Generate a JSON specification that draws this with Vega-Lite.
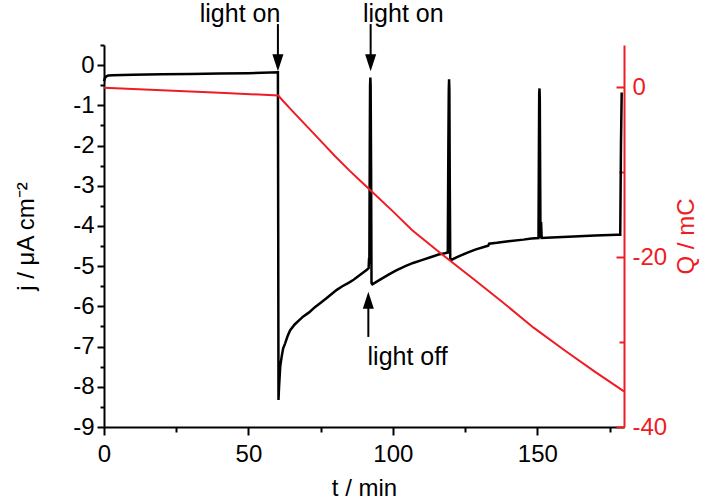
{
  "$schema": "https://vega.github.io/schema/vega-lite/v6.json",
  "width": 520,
  "height": 382,
  "autosize": {"type": "none"},
  "padding": {"left": 104, "top": 45, "right": 84, "bottom": 76},
  "config": {
    "view": {"stroke": null},
    "font": "Liberation Sans",
    "axis": {
      "grid": false,
      "labelFont": "Liberation Sans",
      "titleFont": "Liberation Sans",
      "labelFontSize": 24,
      "titleFontSize": 24,
      "titleFontWeight": "normal",
      "domainWidth": 2,
      "tickWidth": 2,
      "labelOverlap": false,
      "labelFlush": false
    }
  },
  "datasets": {
    "current": [
      {"t": 0, "j": -0.40}, {"t": 0.3, "j": -0.33}, {"t": 0.8, "j": -0.28}, {"t": 1.5, "j": -0.26},
      {"t": 3, "j": -0.25}, {"t": 10, "j": -0.24}, {"t": 20, "j": -0.23}, {"t": 30, "j": -0.22},
      {"t": 40, "j": -0.21}, {"t": 50, "j": -0.20}, {"t": 60.2, "j": -0.18}, {"t": 60.3, "j": -4.0},
      {"t": 60.4, "j": -8.33}, {"t": 60.6, "j": -8.0}, {"t": 61.0, "j": -7.5}, {"t": 61.5, "j": -7.25},
      {"t": 62.0, "j": -7.05}, {"t": 62.7, "j": -6.92}, {"t": 63.5, "j": -6.75}, {"t": 64.4, "j": -6.6},
      {"t": 66, "j": -6.45}, {"t": 67.5, "j": -6.35}, {"t": 69, "j": -6.25}, {"t": 71, "j": -6.15},
      {"t": 73, "j": -6.02}, {"t": 74.8, "j": -5.92}, {"t": 77, "j": -5.80}, {"t": 79, "j": -5.68},
      {"t": 80.6, "j": -5.59}, {"t": 82.5, "j": -5.50}, {"t": 84.5, "j": -5.42}, {"t": 86.4, "j": -5.34},
      {"t": 88, "j": -5.25}, {"t": 89.5, "j": -5.17}, {"t": 91.0, "j": -5.09}, {"t": 91.6, "j": -5.05},
      {"t": 91.75, "j": -4.8}, {"t": 91.85, "j": -4.95}, {"t": 92.0, "j": -2.0}, {"t": 92.1, "j": -0.5},
      {"t": 92.2, "j": -0.31}, {"t": 92.3, "j": -0.5}, {"t": 92.45, "j": -2.5}, {"t": 92.6, "j": -5.42},
      {"t": 92.9, "j": -5.45}, {"t": 95, "j": -5.36}, {"t": 98.5, "j": -5.21}, {"t": 101, "j": -5.11},
      {"t": 104.3, "j": -5.0}, {"t": 107, "j": -4.92}, {"t": 110, "j": -4.85}, {"t": 113, "j": -4.78},
      {"t": 115.8, "j": -4.71}, {"t": 118, "j": -4.68}, {"t": 119.0, "j": -4.66}, {"t": 119.2, "j": -2.0},
      {"t": 119.35, "j": -0.6}, {"t": 119.45, "j": -0.35}, {"t": 119.55, "j": -0.6}, {"t": 119.7, "j": -3.0},
      {"t": 119.85, "j": -4.8}, {"t": 120.4, "j": -4.84}, {"t": 122, "j": -4.78}, {"t": 125.6, "j": -4.67},
      {"t": 128.5, "j": -4.59}, {"t": 132.6, "j": -4.50}, {"t": 133.0, "j": -4.49}, {"t": 133.3, "j": -4.44},
      {"t": 136, "j": -4.42}, {"t": 140, "j": -4.38}, {"t": 145.2, "j": -4.34}, {"t": 148, "j": -4.31},
      {"t": 150.4, "j": -4.30}, {"t": 150.55, "j": -2.0}, {"t": 150.65, "j": -0.7}, {"t": 150.75, "j": -0.58},
      {"t": 150.85, "j": -0.8}, {"t": 151.0, "j": -3.0}, {"t": 151.1, "j": -4.3}, {"t": 151.3, "j": -3.9},
      {"t": 151.5, "j": -4.3}, {"t": 155, "j": -4.29}, {"t": 162.6, "j": -4.26}, {"t": 170, "j": -4.24},
      {"t": 177.6, "j": -4.22}, {"t": 178.7, "j": -4.22}, {"t": 178.95, "j": -2.0}, {"t": 179.2, "j": -0.68}
    ],
    "charge": [
      {"t": 0, "Q": -0.05}, {"t": 20, "Q": -0.33}, {"t": 40, "Q": -0.62}, {"t": 60.3, "Q": -0.95},
      {"t": 62, "Q": -1.6}, {"t": 65, "Q": -2.7}, {"t": 70, "Q": -4.5}, {"t": 75, "Q": -6.3},
      {"t": 80, "Q": -8.1}, {"t": 85, "Q": -9.8}, {"t": 88.7, "Q": -11.0}, {"t": 92.5, "Q": -12.2},
      {"t": 100, "Q": -14.6}, {"t": 106.6, "Q": -16.8}, {"t": 116.4, "Q": -19.5}, {"t": 128, "Q": -22.6},
      {"t": 138, "Q": -25.3}, {"t": 148.7, "Q": -28.3}, {"t": 160, "Q": -31.1}, {"t": 170, "Q": -33.5},
      {"t": 180, "Q": -35.8}
    ],
    "shafts": [
      {"t": 60.2, "j": 1.02, "j2": 0.2},
      {"t": 92.3, "j": 1.02, "j2": 0.2},
      {"t": 91.5, "j": -5.95, "j2": -6.76}
    ],
    "headsDown": [
      {"t": 60.2, "j": 0.06},
      {"t": 92.3, "j": 0.06}
    ],
    "headsUp": [
      {"t": 91.5, "j": -5.85}
    ],
    "labels": [
      {"t": 47.1, "j": 1.28, "label": "light on"},
      {"t": 103.6, "j": 1.28, "label": "light on"},
      {"t": 105.1, "j": -7.26, "label": "light off"}
    ]
  },
  "encoding": {
    "x": {
      "field": "t",
      "type": "quantitative",
      "scale": {"domain": [0, 180], "nice": false, "zero": false},
      "axis": {
        "values": [0, 25, 50, 75, 100, 125, 150, 175],
        "labelExpr": "datum.value % 50 === 0 ? '' + datum.value : ''",
        "tickSize": {"condition": {"test": "datum.value % 50 !== 0", "value": 5}, "value": 8},
        "labelPadding": 7,
        "domainColor": "black",
        "tickColor": "black",
        "labelColor": "black",
        "title": "t / min",
        "titleColor": "black",
        "titlePadding": 10
      }
    }
  },
  "layer": [
    {
      "encoding": {
        "y": {
          "field": "j",
          "type": "quantitative",
          "scale": {"domain": [-9, 0.5], "nice": false, "zero": false},
          "axis": {
            "values": [-9, -8.5, -8, -7.5, -7, -6.5, -6, -5.5, -5, -4.5, -4, -3.5, -3, -2.5, -2, -1.5, -1, -0.5, 0, 0.5],
            "labelExpr": "datum.value % 1 === 0 ? '' + datum.value : ''",
            "tickSize": {"condition": {"test": "datum.value % 1 !== 0", "value": 4}, "value": 7},
            "labelPadding": 3,
            "domainColor": "black",
            "tickColor": "black",
            "labelColor": "black",
            "title": "j / μA cm⁻²",
            "titleColor": "black",
            "titlePadding": 34
          }
        }
      },
      "layer": [
        {
          "data": {"name": "current"},
          "mark": {"type": "line", "color": "black", "strokeWidth": 2.5, "clip": false}
        },
        {
          "data": {"name": "shafts"},
          "mark": {"type": "rule", "color": "black", "strokeWidth": 2},
          "encoding": {"y2": {"field": "j2"}}
        },
        {
          "data": {"name": "headsDown"},
          "mark": {"type": "point", "shape": "M-0.65,-1L0.65,-1L0,1Z", "filled": true, "color": "black", "size": 289, "opacity": 1, "strokeWidth": 0}
        },
        {
          "data": {"name": "headsUp"},
          "mark": {"type": "point", "shape": "M-0.65,1L0.65,1L0,-1Z", "filled": true, "color": "black", "size": 289, "opacity": 1, "strokeWidth": 0}
        },
        {
          "data": {"name": "labels"},
          "mark": {"type": "text", "font": "Liberation Sans", "fontSize": 25, "color": "black", "align": "center", "baseline": "middle"},
          "encoding": {"text": {"field": "label"}}
        }
      ]
    },
    {
      "data": {"name": "charge"},
      "mark": {"type": "line", "color": "#ee1c24", "strokeWidth": 2},
      "encoding": {
        "y": {
          "field": "Q",
          "type": "quantitative",
          "scale": {"domain": [-40, 5], "nice": false, "zero": false},
          "axis": {
            "orient": "right",
            "values": [-40, -30, -20, -10, 0],
            "labelExpr": "datum.value % 20 === 0 ? '' + datum.value : ''",
            "tickSize": {"condition": {"test": "datum.value % 20 !== 0", "value": -5}, "value": -8},
            "labelPadding": 16,
            "domainColor": "#ee1c24",
            "tickColor": "#ee1c24",
            "labelColor": "#ee1c24",
            "title": "Q / mC",
            "titleColor": "#ee1c24",
            "titleAngle": 270,
            "titleBaseline": "top",
            "titlePadding": 8
          }
        }
      }
    }
  ],
  "resolve": {"scale": {"y": "independent"}}
}
